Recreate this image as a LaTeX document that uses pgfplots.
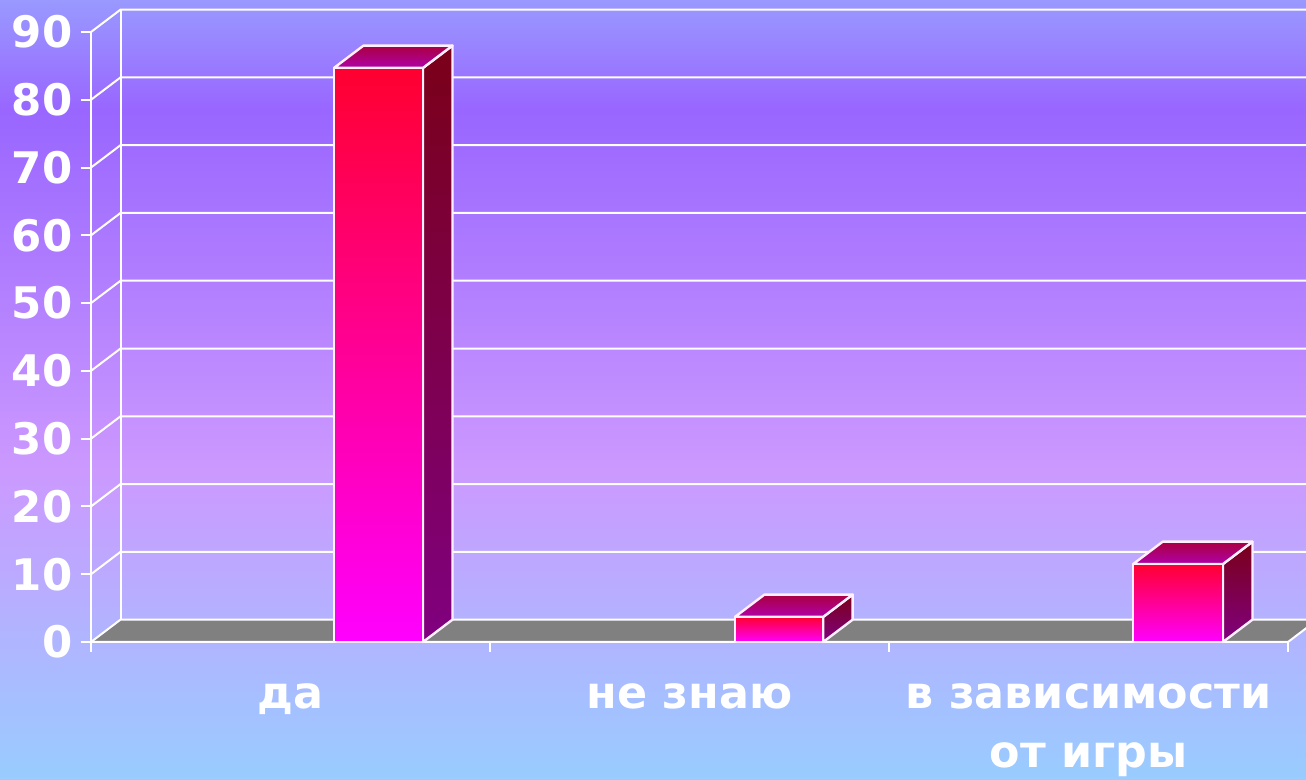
\documentclass[border=0pt]{standalone}
\usepackage{pgfplots}
\pgfplotsset{compat=1.18}
\usepackage{fontspec}
\setmainfont{DejaVu Sans}
\definecolor{bgA}{HTML}{99CCFF}
\definecolor{bgB}{HTML}{CC99FF}
\definecolor{bgC}{HTML}{9966FF}
\definecolor{bgD}{HTML}{9999FF}
\definecolor{frontT}{HTML}{FF0030}
\definecolor{frontB}{HTML}{FF00FF}
\definecolor{sideT}{HTML}{7A0018}
\definecolor{sideB}{HTML}{800080}
\definecolor{capT}{HTML}{AA0040}
\definecolor{capB}{HTML}{B000A8}
\definecolor{floorc}{HTML}{808080}
\definecolor{edgec}{HTML}{FFF0FF}
\pgfdeclareverticalshading{bgshade}{100bp}{color(0bp)=(bgA); color(25bp)=(bgA); color(44.8bp)=(bgB); color(67.9bp)=(bgC); color(75bp)=(bgD); color(100bp)=(bgD)}
\begin{document}
\begin{tikzpicture}
\path[use as bounding box, clip] (0pt,0pt) rectangle (1306pt,779pt);
\shade[shading=bgshade] (0pt,0pt) rectangle (1306pt,779pt);
\begin{axis}[
  at={(91pt,137pt)}, anchor=south west,
  scale only axis, width=1197pt, height=610pt,
  xmin=0, xmax=3, ymin=0, ymax=90,
  clip=false,
  axis lines*=left,
  axis line style={white, line width=2pt, -},
  tick style={white, line width=2pt},
  tick align=outside,
  major tick length=10pt,
  xtick={0,1,2,3}, xticklabels={},
  ytick={0,10,20,30,40,50,60,70,80,90},
  extra x ticks={0.5,1.5,2.5},
  extra x tick labels={да,не знаю,{в зависимости\\от игры}},
  extra x tick style={major tick length=0pt, tick style={draw=none},
    xticklabel style={yshift=-41pt}},
  x tick label style={white, align=center, font=\fontsize{44.4}{59}\selectfont\bfseries},
  y tick label style={white, font=\fontsize{43.5}{50}\selectfont\bfseries, /pgf/number format/assume math mode=true, xshift=-8.5pt},
  ticklabel style={inner sep=0pt},
]
% floor
\addplot[fill=floorc, draw=none, forget plot] coordinates {(0,0) (0.074,3.3) (3.074,3.3) (3,0)} --cycle;
% wall grid lines
\addplot[white, line width=2pt] coordinates {(0,0) (0.074,3.3) (3.074,3.3)};
\addplot[white, line width=2pt] coordinates {(0,10) (0.074,13.3) (3.074,13.3)};
\addplot[white, line width=2pt] coordinates {(0,20) (0.074,23.3) (3.074,23.3)};
\addplot[white, line width=2pt] coordinates {(0,30) (0.074,33.3) (3.074,33.3)};
\addplot[white, line width=2pt] coordinates {(0,40) (0.074,43.3) (3.074,43.3)};
\addplot[white, line width=2pt] coordinates {(0,50) (0.074,53.3) (3.074,53.3)};
\addplot[white, line width=2pt] coordinates {(0,60) (0.074,63.3) (3.074,63.3)};
\addplot[white, line width=2pt] coordinates {(0,70) (0.074,73.3) (3.074,73.3)};
\addplot[white, line width=2pt] coordinates {(0,80) (0.074,83.3) (3.074,83.3)};
\addplot[white, line width=2pt] coordinates {(0,90) (0.074,93.3) (3.074,93.3)};
\addplot[white, line width=2pt] coordinates {(0.074,3.3) (0.074,93.3)};
\addplot[white, line width=2pt] coordinates {(0,0) (3,0) (3.074,3.3)};
% bar 1: 84.7
\addplot[draw=edgec, line width=2.4pt, line join=round, top color=sideT, bottom color=sideB] coordinates {(0.832,0) (0.906,3.3) (0.906,88) (0.832,84.7)} --cycle;
\addplot[draw=edgec, line width=2.4pt, line join=round, top color=capT, bottom color=capB] coordinates {(0.609,84.7) (0.683,88) (0.906,88) (0.832,84.7)} --cycle;
\addplot[draw=edgec, line width=2.4pt, line join=round, top color=frontT, bottom color=frontB] coordinates {(0.609,0) (0.832,0) (0.832,84.7) (0.609,84.7)} --cycle;
% bar 2: 3.7
\addplot[draw=edgec, line width=2.4pt, line join=round, top color=sideT, bottom color=sideB] coordinates {(1.835,0) (1.909,3.3) (1.909,7) (1.835,3.7)} --cycle;
\addplot[draw=edgec, line width=2.4pt, line join=round, top color=capT, bottom color=capB] coordinates {(1.614,3.7) (1.688,7) (1.909,7) (1.835,3.7)} --cycle;
\addplot[draw=edgec, line width=2.4pt, line join=round, top color=frontT, bottom color=frontB] coordinates {(1.614,0) (1.835,0) (1.835,3.7) (1.614,3.7)} --cycle;
% bar 3: 11.5
\addplot[draw=edgec, line width=2.4pt, line join=round, top color=sideT, bottom color=sideB] coordinates {(2.837,0) (2.911,3.3) (2.911,14.8) (2.837,11.5)} --cycle;
\addplot[draw=edgec, line width=2.4pt, line join=round, top color=capT, bottom color=capB] coordinates {(2.612,11.5) (2.686,14.8) (2.911,14.8) (2.837,11.5)} --cycle;
\addplot[draw=edgec, line width=2.4pt, line join=round, top color=frontT, bottom color=frontB] coordinates {(2.612,0) (2.837,0) (2.837,11.5) (2.612,11.5)} --cycle;
\end{axis}
\end{tikzpicture}
\end{document}
